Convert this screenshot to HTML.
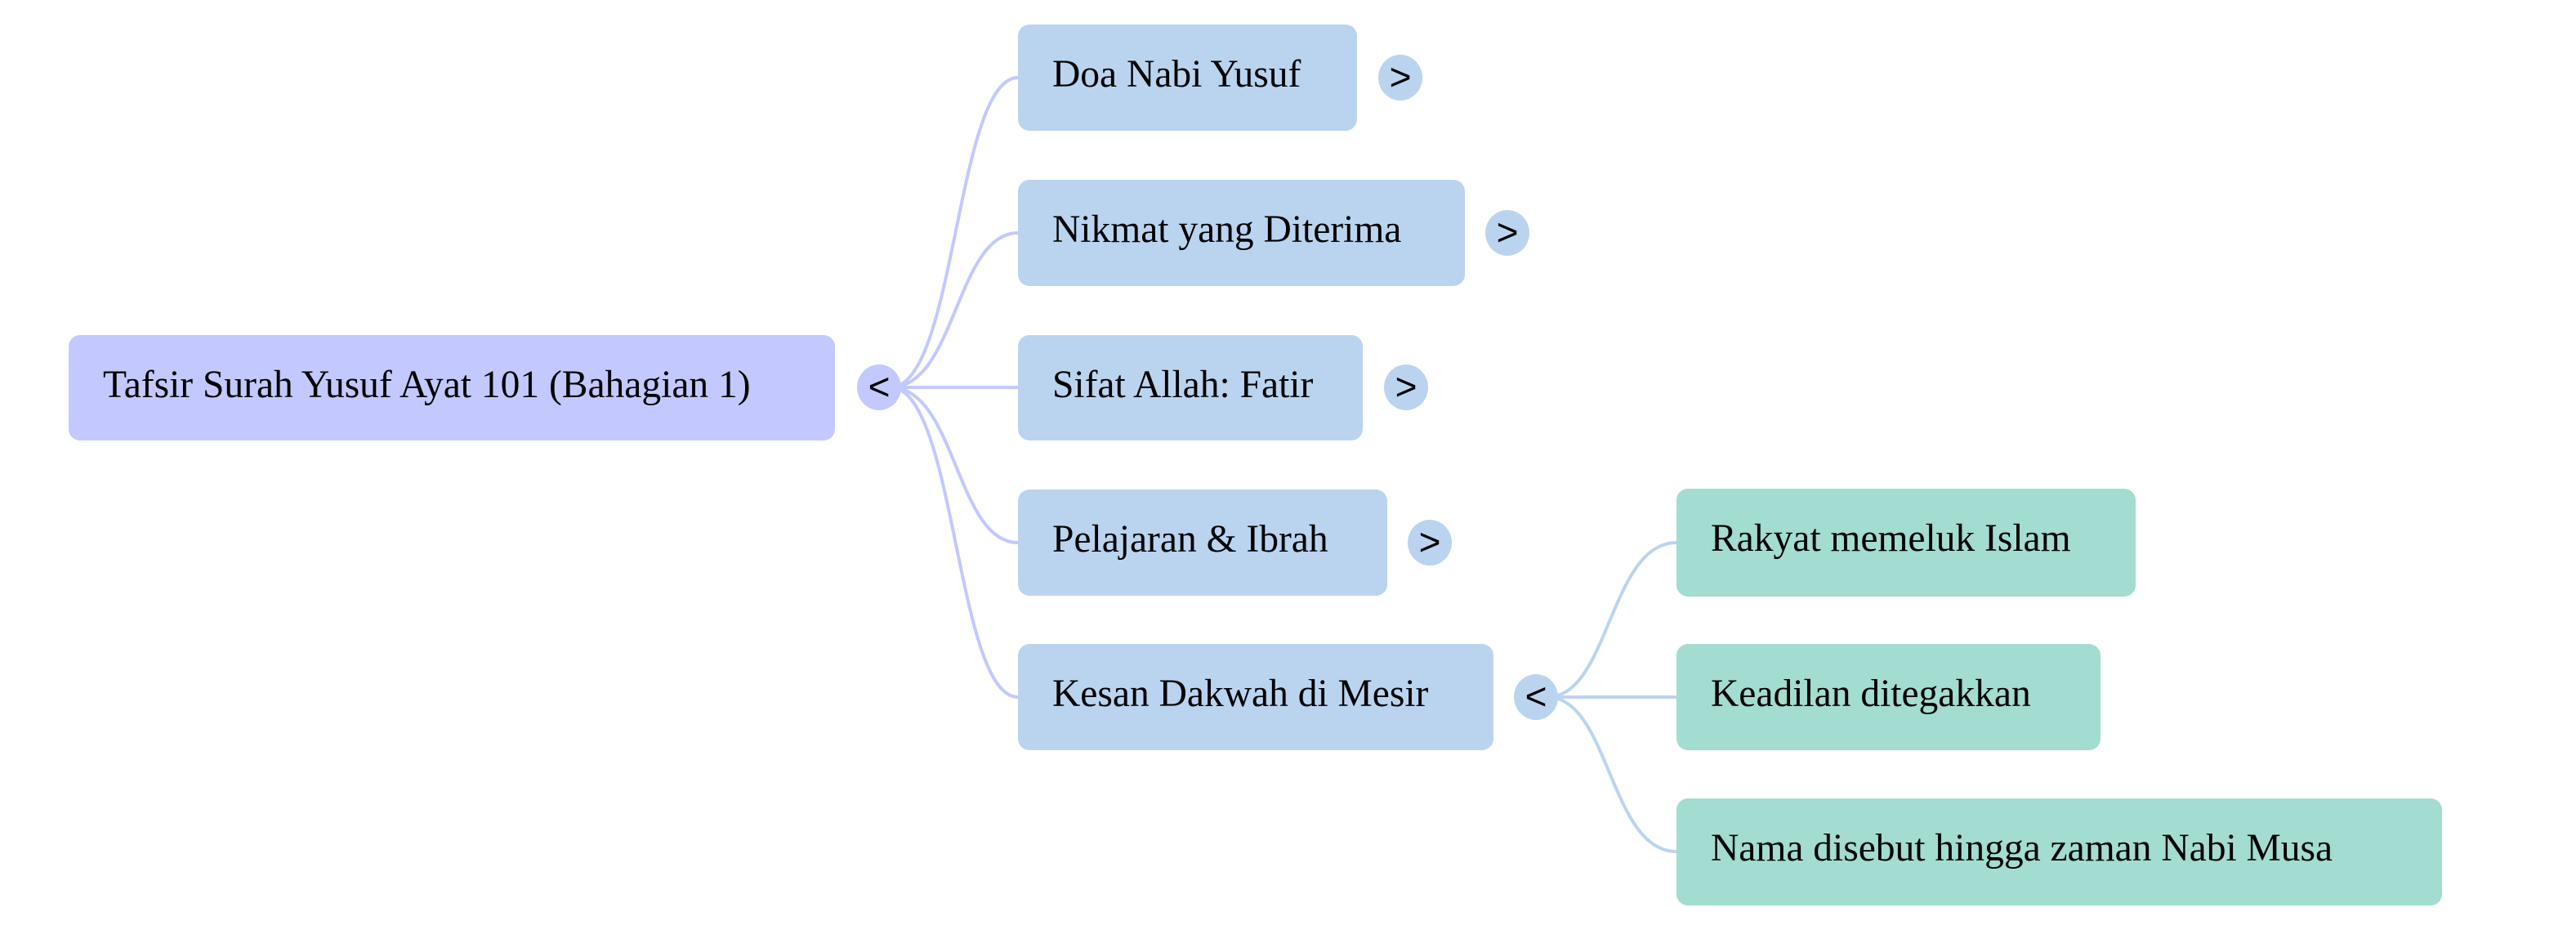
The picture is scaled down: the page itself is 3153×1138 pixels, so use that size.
<!DOCTYPE html>
<html><head><meta charset="utf-8"><style>
html,body{margin:0;padding:0;background:#fff;}
body{width:3153px;height:1138px;position:relative;overflow:hidden;font-family:"Liberation Serif",serif;}
.n{position:absolute;border-radius:14px;box-sizing:border-box;font-size:47.5px;line-height:122px;padding-left:42px;color:#000;white-space:nowrap;}
.r{background:#c3c9fe;}
.c{background:#bad4f0;}
.g{background:#a3dcd0;}
.t{position:absolute;width:54px;height:56px;border-radius:50%;font-family:"Liberation Sans",sans-serif;font-size:46px;line-height:54px;text-align:center;color:#000;}
svg{position:absolute;left:0;top:0;}
</style></head><body>
<svg width="3153" height="1138" fill="none" stroke-width="4">
<g stroke="#c3c9fe">
<path d="M1090,474 C1170,474 1170,95 1246,95"/>
<path d="M1090,474 C1170,474 1170,285 1246,285"/>
<path d="M1090,474 L1246,474"/>
<path d="M1090,474 C1170,474 1170,664 1246,664"/>
<path d="M1090,474 C1170,474 1170,853 1246,853"/>
</g>
<g stroke="#bad4f0">
<path d="M1894,853 C1970,853 1970,664 2052,664"/>
<path d="M1894,853 L2052,853"/>
<path d="M1894,853 C1970,853 1970,1042 2052,1042"/>
</g>
</svg>
<div class="n r" style="left:84px;top:410px;width:938px;height:129px;">Tafsir Surah Yusuf Ayat 101 (Bahagian 1)</div>
<div class="t" style="left:1049px;top:446px;background:#c3c9fe;">&lt;</div>
<div class="n c" style="left:1246px;top:30px;width:415px;height:130px;">Doa Nabi Yusuf</div>
<div class="t" style="left:1687px;top:67px;background:#bad4f0;">&gt;</div>
<div class="n c" style="left:1246px;top:220px;width:547px;height:130px;">Nikmat yang Diterima</div>
<div class="t" style="left:1818px;top:257px;background:#bad4f0;">&gt;</div>
<div class="n c" style="left:1246px;top:410px;width:422px;height:129px;">Sifat Allah: Fatir</div>
<div class="t" style="left:1694px;top:446px;background:#bad4f0;">&gt;</div>
<div class="n c" style="left:1246px;top:599px;width:452px;height:130px;">Pelajaran &amp; Ibrah</div>
<div class="t" style="left:1723px;top:636px;background:#bad4f0;">&gt;</div>
<div class="n c" style="left:1246px;top:788px;width:582px;height:130px;">Kesan Dakwah di Mesir</div>
<div class="t" style="left:1853px;top:825px;background:#bad4f0;">&lt;</div>
<div class="n g" style="left:2052px;top:598px;width:562px;height:132px;">Rakyat memeluk Islam</div>
<div class="n g" style="left:2052px;top:788px;width:519px;height:130px;">Keadilan ditegakkan</div>
<div class="n g" style="left:2052px;top:977px;width:937px;height:131px;">Nama disebut hingga zaman Nabi Musa</div>
</body></html>
